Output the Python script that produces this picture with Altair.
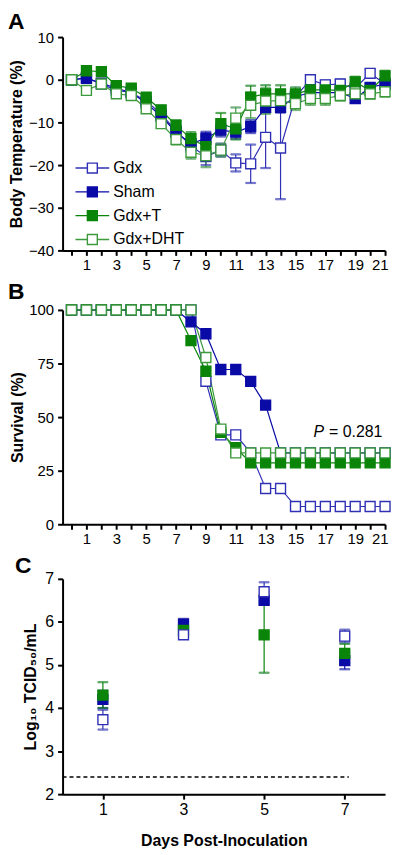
import altair as alt
import pandas as pd

FONT = "Liberation Sans"

series = ["Gdx", "Sham", "Gdx+T", "Gdx+DHT"]
stroke_colors = ["#3030B4", "#0A0AA6", "#0A850A", "#3C9A3C"]
fill_colors = ["#FFFFFF", "#0A0AA6", "#0A850A", "#FFFFFF"]

# ---- Panel A: body temperature (% change) ----
days_a = list(range(22))
temp_gdx = [0, 0.5, -1, -2.5, -3, -5, -8, -12, -15.5, -18, -16.5, -19.5, -19.7, -13.5, -16, -4, 0, -1.2, -1, -2, 1.5, -1]
temp_gdx_err = [0.5, 1, 1, 1, 1, 1, 1, 1.2, 1.5, 2, 1.5, 2, 4.5, 7.2, 12, 1.5, 1, 1, 1, 1, 1, 1]
temp_sham = [0, 0.3, -0.8, -2, -3, -5.5, -8.5, -12.3, -15, -13.7, -11.8, -12.3, -11, -6.5, -6.5, -4, -3, -3, -3, -4.4, -1.8, -1]
temp_sham_err = [0.5, 0.8, 0.8, 0.8, 0.8, 0.8, 1, 1, 1.2, 1.5, 1.5, 1.5, 1.5, 1.2, 1.2, 1, 1, 1, 1, 1, 1, 1]
temp_t = [0, 2.1, 1.9, -1.4, -2, -4.1, -7.1, -10.7, -13.8, -15.7, -10.3, -11.5, -4.1, -3.3, -3.3, -3.3, -2.4, -2.4, -2.5, -0.5, -2.5, 0.9]
temp_t_err = [0.5, 0.8, 0.8, 0.8, 0.8, 0.8, 1, 1.2, 1.5, 2.5, 2.5, 2.5, 2.7, 2, 2, 1.5, 1.2, 1.2, 1.2, 1.2, 1.2, 1.2]
temp_dht = [0, -2.5, -1, -3.3, -3.7, -6.8, -10.3, -14, -17, -17.8, -16.5, -9, -6, -5, -4.9, -5.6, -4.4, -4.4, -3.7, -3.3, -3.3, -2.8]
temp_dht_err = [0.5, 0.8, 0.8, 0.8, 0.8, 0.8, 1, 1.2, 1.5, 2.7, 1.5, 2.5, 3, 3, 2, 1.5, 1.5, 1.5, 1.2, 1.2, 1.2, 1.2]

# ---- Panel B: survival (%) ----
surv_gdx = [100, 100, 100, 100, 100, 100, 100, 100, 100, 66.7, 41.7, 41.7, 33.3, 16.7, 16.7, 8.3, 8.3, 8.3, 8.3, 8.3, 8.3, 8.3]
surv_sham = [100, 100, 100, 100, 100, 100, 100, 100, 94.4, 88.9, 72.2, 72.2, 66.7, 55.6, 33.3, 33.3, 33.3, 33.3, 33.3, 33.3, 33.3, 33.3]
surv_t = [100, 100, 100, 100, 100, 100, 100, 100, 85.7, 71.4, 42.9, 35.7, 28.6, 28.6, 28.6, 28.6, 28.6, 28.6, 28.6, 28.6, 28.6, 28.6]
surv_dht = [100, 100, 100, 100, 100, 100, 100, 100, 100, 77.8, 44.4, 33.3, 33.3, 33.3, 33.3, 33.3, 33.3, 33.3, 33.3, 33.3, 33.3, 33.3]
p_label_day = [16.2]
p_value_day = [17.25]
p_label_surv = [43]

# ---- Panel C: viral titers ----
series_c = ["Sham", "Gdx+T", "Gdx"]
days_c = [1, 3, 5, 7]
titer_gdx = [3.73, 5.7, 6.7, 5.67]
titer_gdx_err = [0.23, 0.08, 0.22, 0.15]
titer_sham = [4.2, 5.95, 6.5, 5.1]
titer_sham_err = [0.2, 0.12, 0.08, 0.2]
titer_t = [4.3, 5.8, 5.7, 5.27]
titer_t_err = [0.3, 0.15, 0.88, 0.22]
lod_days = [0, 7.1]
detection_limit = 2.4


def long_frame(days, values, errs, names):
    rows = []
    for name, vals, er in zip(names, values, errs):
        for d, v, e in zip(days, vals, er):
            rows.append({"day": d, "series": name, "value": v,
                         "lo": v - e, "hi": v + e})
    return pd.DataFrame(rows)


df_a = long_frame(days_a, [temp_gdx, temp_sham, temp_t, temp_dht],
                  [temp_gdx_err, temp_sham_err, temp_t_err, temp_dht_err], series)
zeros = [0] * 22
df_b = long_frame(days_a, [surv_gdx, surv_sham, surv_t, surv_dht],
                  [zeros, zeros, zeros, zeros], series)
df_c = long_frame(days_c, [titer_sham, titer_t, titer_gdx],
                  [titer_sham_err, titer_t_err, titer_gdx_err], series_c)

stroke_scale = alt.Scale(domain=series, range=stroke_colors)
fill_scale = alt.Scale(domain=series, range=fill_colors)

legend_path = "M-1.7,0H-0.5M0.5,0H1.7M-0.5,-0.5H0.5V0.5H-0.5Z"


def axis_style(label_size):
    return dict(domainWidth=2, domainColor="black", tickWidth=2, tickColor="black",
                tickSize=5, labelFont=FONT, labelFontSize=label_size, labelColor="black",
                titleFont=FONT, titleFontSize=16, titleFontWeight="bold",
                titleColor="black", grid=False)


def series_layers(df, xscale, xaxis, yscale, yaxis, with_err, legend, size, with_line):
    base = alt.Chart(df)
    x = alt.X("day:Q", scale=xscale, axis=xaxis)
    stroke = alt.Stroke("series:N", scale=stroke_scale, legend=legend)
    fill = alt.Fill("series:N", scale=fill_scale, legend=legend)
    layers = []
    if with_err:
        layers.append(base.mark_rule(strokeWidth=1.2).encode(
            x=x, y=alt.Y("lo:Q", scale=yscale, axis=yaxis), y2="hi:Q", stroke=stroke))
        layers.append(base.mark_tick(orient="horizontal", size=10, thickness=1.2).encode(
            x=x, y=alt.Y("lo:Q", scale=yscale, axis=yaxis), stroke=stroke))
        layers.append(base.mark_tick(orient="horizontal", size=10, thickness=1.2).encode(
            x=x, y=alt.Y("hi:Q", scale=yscale, axis=yaxis), stroke=stroke))
    if with_line:
        layers.append(base.mark_line(strokeWidth=1.2).encode(
            x=x, y=alt.Y("value:Q", scale=yscale, axis=yaxis), stroke=stroke,
            detail="series:N"))
    layers.append(base.mark_point(shape="square", size=size, strokeWidth=1.4,
                                  opacity=1, fillOpacity=1).encode(
        x=x, y=alt.Y("value:Q", scale=yscale, axis=yaxis), stroke=stroke, fill=fill))
    return layers


def panel_letter(letter, dx, dy):
    return alt.Chart(pd.DataFrame({"t": [letter]})).mark_text(
        font=FONT, fontSize=23, fontWeight="bold", color="black",
        align="left", baseline="top").encode(
        text="t:N", x=alt.value(dx), y=alt.value(dy))


day_ticks = list(range(22))
xaxis_ab = alt.Axis(title=None, values=day_ticks,
                    labelExpr="datum.value % 2 == 1 ? datum.label : ''",
                    labelPadding=2, labelFlush=True, labelFlushOffset=3,
                    **axis_style(15))
xscale_ab = alt.Scale(domain=[-0.6, 21.0], nice=False, zero=False)

# Panel A
legend_a = alt.Legend(title=None, orient="none", legendX=19, legendY=121,
                      symbolType=legend_path, symbolSize=400, symbolStrokeWidth=1.4,
                      symbolOpacity=1,
                      labelFont=FONT, labelFontSize=16, labelColor="black",
                      labelOffset=10, rowPadding=5, padding=0)
yscale_a = alt.Scale(domain=[-40, 10], nice=False)
yaxis_a = alt.Axis(title="Body Temperature (%)", values=[-40, -30, -20, -10, 0, 10],
                   titlePadding=4, labelPadding=4, **axis_style(15))
panel_a = alt.layer(
    *series_layers(df_a, xscale_ab, xaxis_ab, yscale_a, yaxis_a, True, legend_a, 100, True),
    panel_letter("A", -55, -26)
).properties(width=325, height=215)

# Panel B
yscale_b = alt.Scale(domain=[0, 100], nice=False)
yaxis_b = alt.Axis(title="Survival (%)", values=[0, 25, 50, 75, 100],
                   titlePadding=3, labelPadding=4, **axis_style(15))
p_df = pd.DataFrame({"day": p_label_day, "value": p_label_surv})
v_df = pd.DataFrame({"day": p_value_day, "value": p_label_surv})
p_text = alt.Chart(p_df).mark_text(
    text="P", font=FONT, fontSize=16, fontStyle="italic", align="left", baseline="middle",
    color="black").encode(x=alt.X("day:Q", scale=xscale_ab, axis=xaxis_ab),
                          y=alt.Y("value:Q", scale=yscale_b, axis=yaxis_b))
p_val = alt.Chart(v_df).mark_text(
    text="= 0.281", font=FONT, fontSize=16, align="left", baseline="middle",
    color="black").encode(x=alt.X("day:Q", scale=xscale_ab, axis=xaxis_ab),
                          y=alt.Y("value:Q", scale=yscale_b, axis=yaxis_b))
panel_b = alt.layer(
    *series_layers(df_b, xscale_ab, xaxis_ab, yscale_b, yaxis_b, False, None, 100, True),
    p_text, p_val, panel_letter("B", -55, -29)
).properties(width=325, height=216)

# Panel C
xscale_c = alt.Scale(domain=[0, 8], nice=False, zero=False)
xaxis_c = alt.Axis(title="Days Post-Inoculation", values=[1, 3, 5, 7], labelPadding=2,
                   titlePadding=16, **axis_style(16))
yscale_c = alt.Scale(domain=[2, 7], nice=False, zero=False)
yaxis_c = alt.Axis(title="Log₁₀ TCID₅₀/mL", values=[2, 3, 4, 5, 6, 7],
                   titlePadding=6, labelPadding=4, **axis_style(16))
lod_df = pd.DataFrame({"day": [lod_days[0]], "day2": [lod_days[1]], "value": [detection_limit]})
lod = alt.Chart(lod_df).mark_rule(
    strokeDash=[4, 3], strokeWidth=1.5, color="black").encode(
    x=alt.X("day:Q", scale=xscale_c, axis=xaxis_c), x2="day2:Q",
    y=alt.Y("value:Q", scale=yscale_c, axis=yaxis_c))
panel_c = alt.layer(
    lod,
    *series_layers(df_c, xscale_c, xaxis_c, yscale_c, yaxis_c, True, None, 100, False),
    panel_letter("C", -48, -24)
).properties(width=325, height=217)

chart = alt.concat(panel_a, panel_b, panel_c, columns=1, spacing=9, align="none").resolve_scale(
    stroke="independent", fill="independent").resolve_legend(
    stroke="independent", fill="independent").configure_view(stroke=None).properties(
    padding=0, background="white")

chart.save("out.html", embed_options={"renderer": "svg", "actions": False})
